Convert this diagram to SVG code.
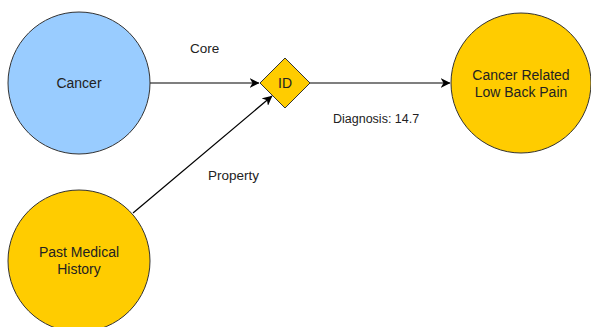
<svg xmlns="http://www.w3.org/2000/svg" width="591" height="327" viewBox="0 0 591 327">
<style>
text{font-family:"Liberation Sans",Arial,sans-serif;fill:#222}
.nl{font-size:14px}
.el{font-size:13.5px}
.node{stroke:#333;stroke-width:1}
.edge{stroke:#000;stroke-width:1.2;fill:none}
</style>
<defs>
<marker id="arr" viewBox="0 0 10 10" refX="9.5" refY="5" markerWidth="10" markerHeight="10" markerUnits="userSpaceOnUse" orient="auto">
<path d="M0,0 L10,5 L0,10 L3,5 Z" fill="#000"/>
</marker>
</defs>
<rect width="591" height="327" fill="#fff"/>
<g id="connectors">
<line class="edge" x1="150" y1="83" x2="259" y2="83" marker-end="url(#arr)"/>
<line class="edge" x1="310" y1="83" x2="450" y2="83" marker-end="url(#arr)"/>
<line class="edge" x1="133" y1="213" x2="272" y2="96" marker-end="url(#arr)"/>
<text class="el" x="190" y="53">Core</text>
<text class="el" x="333" y="123" style="font-size:12.5px">Diagnosis: 14.7</text>
<text class="el" x="208" y="180">Property</text>
</g>
<g id="cancer">
<circle class="node" cx="79" cy="83" r="71" fill="#99ccff"/>
<text class="nl" x="79" y="88" text-anchor="middle">Cancer</text>
</g>
<g id="pmh">
<circle class="node" cx="79" cy="261" r="71" fill="#ffcc00"/>
<text class="nl" x="79" y="257" text-anchor="middle">Past Medical</text>
<text class="nl" x="79" y="274" text-anchor="middle">History</text>
</g>
<g id="id">
<polygon class="node" points="285,58 310,83 285,108 260,83" fill="#ffcc00"/>
<text class="nl" x="285" y="88" text-anchor="middle">ID</text>
</g>
<g id="clbp">
<circle class="node" cx="521" cy="83" r="70" fill="#ffcc00"/>
<text class="nl" x="521" y="80" text-anchor="middle">Cancer Related</text>
<text class="nl" x="521" y="97" text-anchor="middle">Low Back Pain</text>
</g>
</svg>
